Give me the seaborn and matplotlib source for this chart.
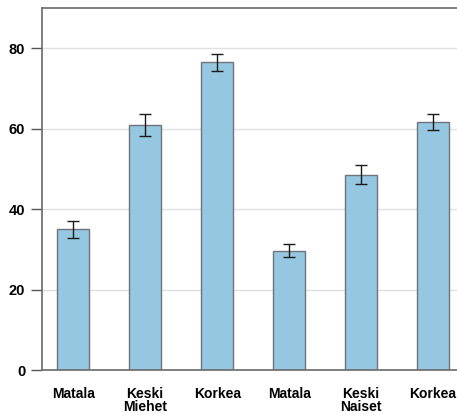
import matplotlib
matplotlib.use("Agg")
import matplotlib.pyplot as plt
import seaborn as sns
import pandas as pd

# Mean values per group with their error margins
keys = ["M-Matala", "M-Keski", "M-Korkea", "N-Matala", "N-Keski", "N-Korkea"]
tick_labels = ["Matala", "Keski\nMiehet", "Korkea", "Matala", "Keski\nNaiset", "Korkea"]
means = [35.0, 60.9, 76.6, 29.7, 48.6, 61.7]
errors = [2.2, 2.7, 2.1, 1.7, 2.4, 2.1]
y_ticks = [0, 20, 40, 60, 80]

sns.set_theme(style="white")
plt.rcParams["font.family"] = ["Liberation Sans", "DejaVu Sans"]
plt.rcParams["font.weight"] = "bold"

df = pd.DataFrame({"group": keys, "value": means})

fig = plt.figure(figsize=(4.57, 4.15), dpi=100)
ax = fig.add_axes([0.0919, 0.1084, 0.95, 0.8716])

ax.set_axisbelow(True)
ax.yaxis.grid(True, color="#e0e0e0", linewidth=1.0)

sns.barplot(data=df, x="group", y="value", order=keys, errorbar=None,
            color="#95c7e1", saturation=1, width=0.45,
            edgecolor="#6f7478", linewidth=1.0, ax=ax)

ax.errorbar(range(len(keys)), means, yerr=errors, fmt="none",
            ecolor="#1a1a1a", elinewidth=1.0, capsize=4.5, capthick=1.0)

ax.set_xlim(-0.434, 5.60)
ax.set_ylim(0, 90)
ax.set_yticks(y_ticks)
ax.set_yticklabels([str(v) for v in y_ticks])
ax.set_xticks(range(len(keys)))
ax.set_xticklabels(tick_labels, linespacing=0.95)
ax.set_xlabel("")
ax.set_ylabel("")

ax.tick_params(axis="y", which="both", left=True, length=8, width=1.0,
               color="#555555", pad=4, labelsize=10.5, labelcolor="black")
ax.tick_params(axis="x", which="both", bottom=False, length=0, pad=12,
               labelsize=10, labelcolor="black")

for name in ["left", "bottom", "top"]:
    ax.spines[name].set_visible(True)
    ax.spines[name].set_linewidth(1.2)
ax.spines["left"].set_color("#6a6a6a")
ax.spines["bottom"].set_color("#6a6a6a")
ax.spines["top"].set_color("#6a6a6a")
ax.spines["right"].set_visible(False)

fig.savefig("out.png", dpi=100)
